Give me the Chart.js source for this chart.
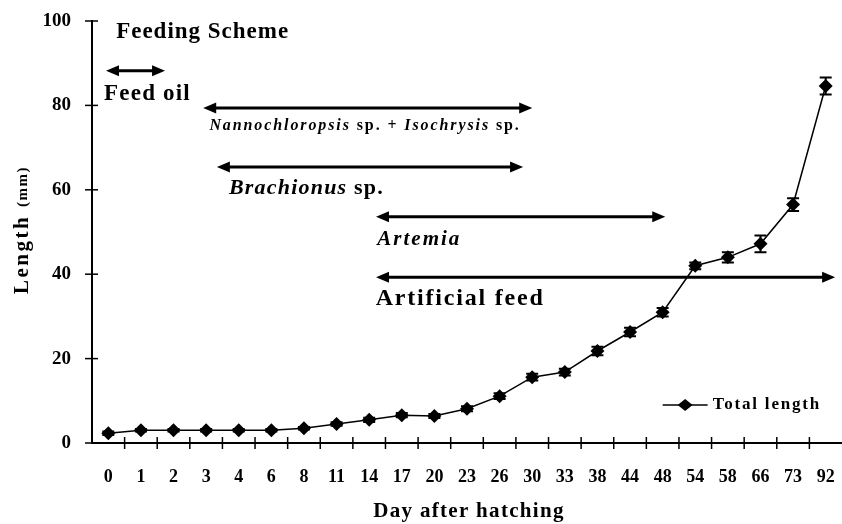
<!DOCTYPE html>
<html>
<head>
<meta charset="utf-8">
<script src="https://cdn.jsdelivr.net/npm/chart.js@4/dist/chart.umd.min.js"></script>
<style>
  html, body { margin: 0; padding: 0; background: #fff; overflow: hidden; }
  #wrap { width: 842px; height: 524px; position: relative; overflow: hidden; }
  canvas { display: block; }
</style>
</head>
<body>
<div id="wrap"><canvas id="c"></canvas></div>
<script>
// ---- data ----
const days = ['0','1','2','3','4','6','8','11','14','17','20','23','26','30','33','38','44','48','54','58','66','73','92'];
const totalLength = [2.3,3.0,3.0,3.0,3.0,3.0,3.5,4.5,5.5,6.6,6.4,8.1,11.1,15.6,16.8,21.8,26.3,31.0,42.0,44.0,47.2,56.5,84.6];
const lengthError = [0.4,0.3,0.3,0.3,0.3,0.3,0.3,0.4,0.5,0.5,0.5,0.6,0.7,0.8,0.8,1.0,1.0,1.0,0.8,1.2,2.0,1.5,2.0];
const yTicks = [0,20,40,60,80,100];
const seriesLabel = 'Total length';
const xTitle = 'Day after hatching';
const yTitleMain = 'Length';
const yTitleUnit = '(mm)';

// feeding scheme periods (category index span, level on the length axis)
const feedFrom  = [-0.07, 2.91, 3.33, 8.21, 8.21];
const feedTo    = [ 1.74, 13.0, 12.72, 17.08, 22.29];
const feedLevel = [88.2, 79.4, 65.4, 53.6, 39.3];

const SERIF = '"Liberation Serif", "Times New Roman", serif';

function seg(ctx, parts, x, y, spacing) {
  let cx = x;
  ctx.letterSpacing = (spacing || 0) + 'px';
  parts.forEach(p => {
    ctx.font = p[1];
    ctx.fillText(p[0], cx, y);
    cx += ctx.measureText(p[0]).width;
  });
  ctx.letterSpacing = '0px';
  return cx - x;
}

function arrowHead(ctx, x, y, dir) {
  const L = 13, H = 5.5;
  ctx.beginPath();
  ctx.moveTo(x, y);
  ctx.lineTo(x - dir * L, y - H);
  ctx.lineTo(x - dir * L, y + H);
  ctx.closePath();
  ctx.fill();
}

const decor = {
  id: 'decor',
  afterDatasetsDraw(chart) {
    const ctx = chart.ctx;
    const xs = chart.scales.x, ys = chart.scales.y;
    const area = chart.chartArea;
    ctx.save();
    ctx.fillStyle = '#000';
    ctx.strokeStyle = '#000';

    // error bars
    ctx.lineWidth = 2;
    totalLength.forEach((v, i) => {
      const px = xs.getPixelForValue(i);
      const top = ys.getPixelForValue(v + lengthError[i]);
      const bot = ys.getPixelForValue(v - lengthError[i]);
      ctx.beginPath();
      ctx.moveTo(px, top); ctx.lineTo(px, bot);
      ctx.moveTo(px - 6, top); ctx.lineTo(px + 6, top);
      ctx.moveTo(px - 6, bot); ctx.lineTo(px + 6, bot);
      ctx.stroke();
    });

    // crossing tick marks
    ctx.lineWidth = 1.5;
    const n = days.length;
    const step = (area.right - area.left) / n;
    const y0 = area.bottom;
    for (let i = 1; i < n; i++) {
      const px = area.left + i * step;
      ctx.beginPath(); ctx.moveTo(px, y0 - 6); ctx.lineTo(px, y0 + 6); ctx.stroke();
    }
    yTicks.forEach(t => {
      const py = ys.getPixelForValue(t);
      ctx.beginPath(); ctx.moveTo(area.left - 7, py); ctx.lineTo(area.left + 6, py); ctx.stroke();
    });

    // feeding scheme arrows
    ctx.lineWidth = 3;
    for (let k = 0; k < feedFrom.length; k++) {
      const x1 = xs.getPixelForValue(feedFrom[k]);
      const x2 = xs.getPixelForValue(feedTo[k]);
      const py = ys.getPixelForValue(feedLevel[k]);
      ctx.beginPath(); ctx.moveTo(x1 + 8, py); ctx.lineTo(x2 - 8, py); ctx.stroke();
      arrowHead(ctx, x1, py, -1);
      arrowHead(ctx, x2, py, 1);
    }

    // annotation texts
    ctx.textBaseline = 'middle';
    ctx.textAlign = 'left';
    const P = (i, v) => [xs.getPixelForValue(i), ys.getPixelForValue(v)];
    let p;
    p = P(0.24, 97.3);
    seg(ctx, [['Feeding Scheme', 'bold 23px ' + SERIF]], p[0], p[1], 1);
    p = P(-0.13, 82.6);
    seg(ctx, [['Feed oil', 'bold 23px ' + SERIF]], p[0], p[1], 1.2);
    p = P(3.1, 75.1);
    seg(ctx, [['Nannochloropsis', 'italic bold 16px ' + SERIF], [' sp. + ', 'bold 16px ' + SERIF],
              ['Isochrysis', 'italic bold 16px ' + SERIF], [' sp.', 'bold 16px ' + SERIF]], p[0], p[1], 1.9);
    p = P(3.7, 60.4);
    seg(ctx, [['Brachionus', 'italic bold 22px ' + SERIF], [' sp.', 'bold 22px ' + SERIF]], p[0], p[1], 1.2);
    p = P(8.25, 48.2);
    seg(ctx, [['Artemia', 'italic bold 21px ' + SERIF]], p[0], p[1], 2);
    p = P(8.2, 34.2);
    seg(ctx, [['Artificial feed', 'bold 24px ' + SERIF]], p[0], p[1], 1.8);

    // legend
    const ly = ys.getPixelForValue(9.0);
    const lx = xs.getPixelForValue(17.0);
    ctx.lineWidth = 1.5;
    ctx.beginPath(); ctx.moveTo(lx, ly); ctx.lineTo(lx + 45, ly); ctx.stroke();
    ctx.beginPath();
    ctx.moveTo(lx + 22.5, ly - 6); ctx.lineTo(lx + 30, ly); ctx.lineTo(lx + 22.5, ly + 6); ctx.lineTo(lx + 15, ly);
    ctx.closePath(); ctx.fill();
    seg(ctx, [[seriesLabel, 'bold 17px ' + SERIF]], lx + 50, ly, 1.8);

    // axis titles
    ctx.textAlign = 'left';
    ctx.font = 'bold 21px ' + SERIF;
    ctx.letterSpacing = '1.3px';
    const xw = ctx.measureText(xTitle).width;
    ctx.fillText(xTitle, (area.left + area.right) / 2 + 2 - xw / 2, 512);
    ctx.letterSpacing = '0px';

    ctx.save();
    ctx.translate(23, 230);
    ctx.rotate(-Math.PI / 2);
    ctx.letterSpacing = '2.5px';
    ctx.font = 'bold 21px ' + SERIF;
    const w1 = ctx.measureText(yTitleMain + ' ').width;
    ctx.letterSpacing = '1.5px';
    ctx.font = 'bold 15px ' + SERIF;
    const w2 = ctx.measureText(yTitleUnit).width;
    const start = -(w1 + w2) / 2;
    seg(ctx, [[yTitleMain + ' ', 'bold 21px ' + SERIF]], start, 0, 2.5);
    seg(ctx, [[yTitleUnit, 'bold 15px ' + SERIF]], start + w1, 0, 1.5);
    ctx.restore();

    ctx.restore();
  }
};

new Chart(document.getElementById('c'), {
  type: 'line',
  data: {
    labels: days,
    datasets: [{
      label: seriesLabel,
      data: totalLength,
      borderColor: '#000',
      backgroundColor: '#000',
      borderWidth: 1.5,
      tension: 0,
      clip: false,
      pointStyle: 'rectRot',
      pointRadius: 7,
      pointHoverRadius: 7,
      pointBackgroundColor: '#000',
      pointBorderColor: '#000',
      pointBorderWidth: 0
    }]
  },
  options: {
    responsive: true,
    maintainAspectRatio: false,
    animation: false,
    events: [],
    layout: { autoPadding: false, padding: { top: 21, right: 0, left: 0, bottom: 0 } },
    plugins: { legend: { display: false }, tooltip: { enabled: false }, title: { display: false } },
    scales: {
      x: {
        type: 'category',
        offset: true,
        grid: { display: false, drawTicks: true, tickLength: 21, offset: true },
        border: { display: true, color: '#000', width: 2 },
        ticks: { color: '#000', font: { family: SERIF, size: 18, weight: 'bold' }, padding: 3, maxRotation: 0, autoSkip: false },
        afterFit: s => { s.height = 81; s.paddingLeft = 0; s.paddingRight = 0; }
      },
      y: {
        min: 0, max: 100,
        grid: { display: false, drawTicks: true, tickLength: 14 },
        border: { display: true, color: '#000', width: 2 },
        ticks: { stepSize: 20, color: '#000', font: { family: SERIF, size: 19, weight: 'bold' }, padding: 7 },
        afterFit: s => { s.width = 92; }
      }
    }
  },
  plugins: [decor]
});
</script>
</body>
</html>
